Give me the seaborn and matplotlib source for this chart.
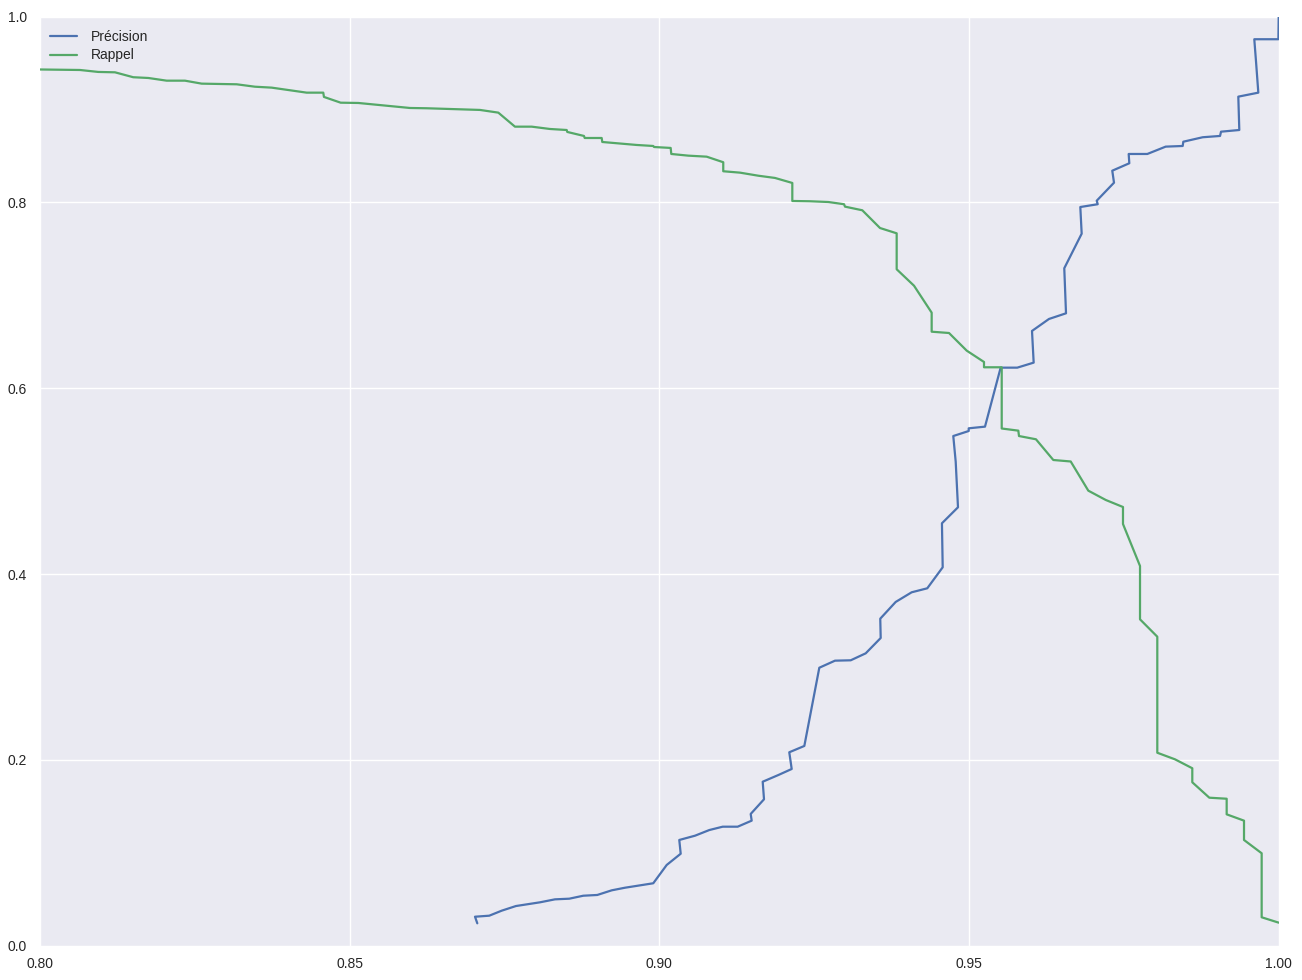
import matplotlib
matplotlib.use("Agg")
import seaborn as sns
import matplotlib.pyplot as plt

# Precision / recall as a function of the decision threshold
seuil_precision = [0.87061, 0.87024, 0.87254, 0.87455, 0.87685, 0.88073, 0.88315, 0.88546,
                   0.88772, 0.88998, 0.89231, 0.89445, 0.89902, 0.90119, 0.90345, 0.90322,
                   0.90576, 0.90807, 0.91023, 0.91265, 0.91491, 0.91475, 0.91690, 0.91669,
                   0.91921, 0.92137, 0.92098, 0.92341, 0.92583, 0.92836, 0.93090, 0.93332,
                   0.93574, 0.93567, 0.93816, 0.94074, 0.94326, 0.94575, 0.94563, 0.94822,
                   0.94785, 0.94746, 0.94995, 0.94995, 0.95258, 0.95511, 0.95779, 0.96044,
                   0.96017, 0.96291, 0.96566, 0.96538, 0.96819, 0.96797, 0.97078, 0.97062,
                   0.97341, 0.97313, 0.97588, 0.97578, 0.97879, 0.98175, 0.98450, 0.98460,
                   0.98773, 0.99053, 0.99069, 0.99364, 0.99348, 0.99671, 0.99634, 0.99606,
                   0.99995, 1.0]
precision = [0.0241, 0.0312, 0.0323, 0.0377, 0.0427, 0.0467, 0.0499, 0.0506,
             0.0538, 0.0546, 0.0596, 0.0624, 0.0672, 0.0869, 0.0990, 0.1138,
             0.1184, 0.1245, 0.1281, 0.1281, 0.1346, 0.1418, 0.1576, 0.1765,
             0.1837, 0.1902, 0.2082, 0.2150, 0.2992, 0.3068, 0.3072, 0.3147,
             0.3312, 0.3520, 0.3700, 0.3804, 0.3847, 0.4073, 0.4547, 0.4719,
             0.5210, 0.5486, 0.5540, 0.5569, 0.5587, 0.6222, 0.6222, 0.6276,
             0.6617, 0.6746, 0.6807, 0.7292, 0.7664, 0.7951, 0.7981, 0.8019,
             0.8213, 0.8342, 0.8422, 0.8522, 0.8522, 0.8601, 0.8608, 0.8654,
             0.8702, 0.8716, 0.8762, 0.8780, 0.9139, 0.9182, 0.9516, 0.9757,
             0.9757, 1.0]

seuil_rappel = [0.79, 0.80646, 0.80941, 0.81211, 0.81506, 0.81749, 0.82046, 0.82341,
                0.82611, 0.83176, 0.83471, 0.83741, 0.84306, 0.84574, 0.84585, 0.84855,
                0.85139, 0.85974, 0.86244, 0.87104, 0.87400, 0.87669, 0.87939, 0.88234,
                0.88504, 0.88514, 0.88783, 0.88795, 0.89069, 0.89079, 0.89634, 0.89902,
                0.89914, 0.90183, 0.90193, 0.90467, 0.90764, 0.91032, 0.91032, 0.91302,
                0.91598, 0.91867, 0.92147, 0.92147, 0.92433, 0.92728, 0.92982, 0.92998,
                0.93277, 0.93563, 0.93832, 0.93832, 0.94112, 0.94397, 0.94397, 0.94677,
                0.94963, 0.95242, 0.95242, 0.95528, 0.95528, 0.95796, 0.95807, 0.96081,
                0.96361, 0.96642, 0.96926, 0.97207, 0.97486, 0.97486, 0.97761, 0.97761,
                0.98040, 0.98040, 0.98326, 0.98605, 0.98605, 0.98880, 0.99160, 0.99160,
                0.99440, 0.99440, 0.99725, 0.99725, 1.0]
rappel = [0.9440, 0.9426, 0.9405, 0.9401, 0.9348, 0.9340, 0.9311, 0.9311,
          0.9279, 0.9272, 0.9246, 0.9236, 0.9182, 0.9182, 0.9136, 0.9074,
          0.9071, 0.9017, 0.9014, 0.8996, 0.8967, 0.8816, 0.8816, 0.8791,
          0.8780, 0.8759, 0.8716, 0.8694, 0.8694, 0.8651, 0.8619, 0.8608,
          0.8597, 0.8587, 0.8522, 0.8504, 0.8493, 0.8433, 0.8336, 0.8321,
          0.8288, 0.8264, 0.8210, 0.8016, 0.8013, 0.8005, 0.7981, 0.7955,
          0.7916, 0.7725, 0.7668, 0.7281, 0.7104, 0.6814, 0.6609, 0.6595,
          0.6405, 0.6283, 0.6226, 0.6226, 0.5567, 0.5544, 0.5486, 0.5451,
          0.5228, 0.5212, 0.4898, 0.4798, 0.4722, 0.4539, 0.4087, 0.3513,
          0.3326, 0.2077, 0.2006, 0.1910, 0.1759, 0.1593, 0.1582, 0.1414,
          0.1346, 0.1138, 0.0995, 0.0306, 0.0248]

sns.set_style("darkgrid", {"axes.facecolor": "#EAEAF2", "grid.color": "white",
                           "xtick.major.size": 0, "ytick.major.size": 0})
plt.rcParams["font.family"] = ["Liberation Sans", "DejaVu Sans"]
plt.rcParams["text.color"] = "0.15"
plt.rcParams["xtick.color"] = "0.15"
plt.rcParams["ytick.color"] = "0.15"

fig = plt.figure(figsize=(13.02, 9.8), dpi=100)
ax = fig.add_axes([0.0307, 0.035, 0.9514, 0.948])

sns.lineplot(x=seuil_precision, y=precision, sort=False, estimator=None,
             color="#4C72B0", linewidth=1.6, label="Précision", ax=ax)
sns.lineplot(x=seuil_rappel, y=rappel, sort=False, estimator=None,
             color="#55A868", linewidth=1.6, label="Rappel", ax=ax)

ax.set_xlim(0.8, 1.0)
ax.set_ylim(0.0, 1.0)
ax.set_xticks([0.80, 0.85, 0.90, 0.95, 1.00])
ax.set_xticklabels(["0.80", "0.85", "0.90", "0.95", "1.00"])
ax.set_yticks([0.0, 0.2, 0.4, 0.6, 0.8, 1.0])
ax.set_yticklabels(["0.0", "0.2", "0.4", "0.6", "0.8", "1.0"])
ax.tick_params(axis="x", labelsize=10, pad=4.5)
ax.tick_params(axis="y", labelsize=10, pad=6)
ax.grid(True, color="white", linewidth=1.0)
for s in ax.spines.values():
    s.set_visible(False)
ax.legend(loc="upper left", bbox_to_anchor=(0.0, 0.9965), frameon=False,
          fontsize=10, labelspacing=0.35, handletextpad=0.95, borderaxespad=0.3)

fig.savefig("out.png", dpi=100)
